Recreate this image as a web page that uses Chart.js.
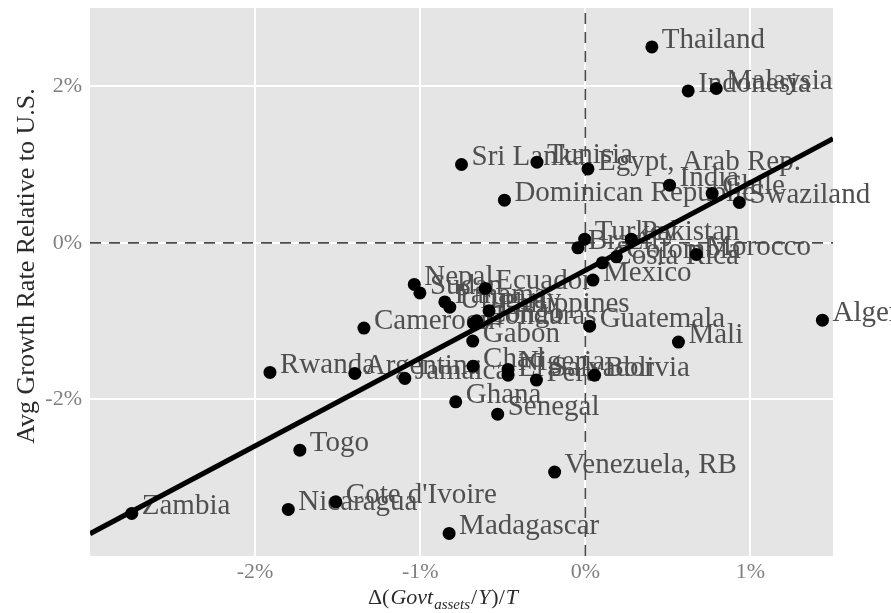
<!DOCTYPE html>
<html>
<head>
<meta charset="utf-8">
<script src="https://cdn.jsdelivr.net/npm/chart.js@4"></script>
<style>
  html, body { margin: 0; padding: 0; background: #fff; }
  #wrap { width: 891px; height: 613px; }
</style>
</head>
<body>
<div id="wrap"><canvas id="chart" width="891" height="613"></canvas></div>
<script>
// ─── Data ─────────────────────────────────────────────
const countries = [
  'Thailand', 'Indonesia', 'Malaysia', 'Sri Lanka', 'Tunisia', 'Egypt, Arab Rep.',
  'India', 'Chile', 'Swaziland', 'Dominican Republic', 'Turkey', 'Brazil',
  'Pakistan', 'Colombia', 'Costa Rica', 'Morocco', 'Mexico', 'Nepal',
  'Sudan', 'Ecuador', 'Panama', 'Uruguay', 'Philippines', 'Congo',
  'Honduras', 'Cameroon', 'Guatemala', 'Gabon', 'Algeria', 'Mali',
  'Rwanda', 'Argentina', 'Jamaica', 'Chad', 'Nigeria', 'El Salvador',
  'Peru', 'Bolivia', 'Ghana', 'Senegal', 'Togo', 'Venezuela, RB',
  "Cote d'Ivoire", 'Nicaragua', 'Zambia', 'Madagascar'
]
// Δ(Govt assets / Y) / T, in %
const govAssets = [
  0.403, 0.623, 0.793, -0.750, -0.293, 0.016,
  0.510, 0.768, 0.933, -0.490, -0.004, -0.045,
  0.278, 0.188, 0.103, 0.672, 0.046, -1.036,
  -1.002, -0.606, -0.851, -0.821, -0.583, -0.658,
  -0.676, -1.341, 0.026, -0.682, 1.436, 0.564,
  -1.910, -1.396, -1.093, -0.680, -0.468, -0.468,
  -0.296, 0.056, -0.785, -0.531, -1.729, -0.186,
  -1.511, -1.799, -2.747, -0.825
]
// average growth rate relative to U.S., in %
const growth = [
  2.503, 1.941, 1.972, 1.001, 1.031, 0.945,
  0.737, 0.631, 0.516, 0.545, 0.047, -0.064,
  0.047, -0.179, -0.255, -0.148, -0.476, -0.531,
  -0.639, -0.582, -0.754, -0.821, -0.868, -0.996,
  -1.026, -1.089, -1.064, -1.255, -0.987, -1.268,
  -1.655, -1.668, -1.732, -1.575, -1.617, -1.690,
  -1.753, -1.690, -2.031, -2.188, -2.648, -2.928,
  -3.308, -3.405, -3.456, -3.711
]
// fitted line end points
const fitX = [-3, 1.5]
const fitY = [-3.715, 1.33]

const xTicks = [-2, -1, 0, 1]
const yTicks = [-2, 0, 2]
const xRange = [-3, 1.5]
const yRange = [-4, 3]

// ─── Style ────────────────────────────────────────────
const SERIF      = '"Liberation Serif", "DejaVu Serif", serif'
const PANEL_BG   = '#e5e5e5'
const LABEL_CLR  = '#4f4f4f'
const TICK_CLR   = '#7f7f7f'
const TITLE_CLR  = '#2b2b2b'

const points = countries.map((c, i) => ({ x: govAssets[i], y: growth[i], label: c }))

// ─── Plugins ──────────────────────────────────────────
const panelBg = {
  id: 'panelBg',
  beforeDraw(chart) {
    const { ctx, chartArea: a } = chart
    ctx.save()
    ctx.fillStyle = PANEL_BG
    ctx.fillRect(a.left, a.top, a.right - a.left, a.bottom - a.top)
    ctx.restore()
  }
}

const pointLabels = {
  id: 'pointLabels',
  beforeDatasetsDraw(chart) {
    const { ctx, scales: { x, y } } = chart
    ctx.save()
    ctx.font = `29px ${SERIF}`
    ctx.fillStyle = LABEL_CLR
    ctx.textAlign = 'left'
    ctx.textBaseline = 'alphabetic'
    points.forEach(p => {
      ctx.fillText(p.label, x.getPixelForValue(p.x) + 10, y.getPixelForValue(p.y) + 1)
    })
    ctx.restore()
  }
}

const axisTitles = {
  id: 'axisTitles',
  afterDraw(chart) {
    const { ctx, chartArea: a } = chart
    ctx.save()
    ctx.fillStyle = TITLE_CLR
    // y title
    ctx.font = `26px ${SERIF}`
    ctx.textAlign = 'center'
    ctx.textBaseline = 'middle'
    ctx.translate(27, (a.top + a.bottom) / 2 - 16)
    ctx.rotate(-Math.PI / 2)
    ctx.fillText('Avg Growth Rate Relative to U.S.', 0, 0)
    ctx.restore()

    // x title: Δ(Govt_assets / Y) / T
    const parts = [
      { t: 'Δ(', f: `22px ${SERIF}`, dy: 0 },
      { t: 'Govt', f: `italic 22px ${SERIF}`, dy: 0 },
      { t: 'assets', f: `italic 15px ${SERIF}`, dy: 5 },
      { t: '/', f: `22px ${SERIF}`, dy: 0 },
      { t: 'Y', f: `italic 22px ${SERIF}`, dy: 0 },
      { t: ')/', f: `22px ${SERIF}`, dy: 0 },
      { t: 'T', f: `italic 22px ${SERIF}`, dy: 0 }
    ]
    ctx.save()
    ctx.fillStyle = TITLE_CLR
    ctx.textBaseline = 'alphabetic'
    ctx.textAlign = 'left'
    let total = 0
    parts.forEach(p => { ctx.font = p.f; p.w = ctx.measureText(p.t).width + 1; total += p.w })
    let cx = (a.left + a.right) / 2 - 18 - total / 2
    const base = 604
    parts.forEach(p => {
      ctx.font = p.f
      ctx.fillText(p.t, cx, base + p.dy)
      cx += p.w
    })
    ctx.restore()
  }
}

// ─── Chart ────────────────────────────────────────────
const ctx = document.getElementById('chart').getContext('2d')

new Chart(ctx, {
  type: 'scatter',
  data: {
    datasets: [
      {
        type: 'line',
        data: fitX.map((v, i) => ({ x: v, y: fitY[i] })),
        borderColor: '#000',
        borderWidth: 5,
        pointRadius: 0,
        order: 1
      },
      {
        data: points,
        backgroundColor: '#000',
        borderWidth: 0,
        pointRadius: 6.5,
        order: 2
      },
      {
        type: 'line',
        data: [{ x: 0, y: yRange[0] }, { x: 0, y: yRange[1] }],
        borderColor: '#4a4a4a',
        borderWidth: 1.6,
        borderDash: [11, 8],
        pointRadius: 0,
        order: 3
      },
      {
        type: 'line',
        data: [{ x: xRange[0], y: 0 }, { x: xRange[1], y: 0 }],
        borderColor: '#4a4a4a',
        borderWidth: 1.6,
        borderDash: [11, 8],
        pointRadius: 0,
        order: 3
      }
    ]
  },
  options: {
    responsive: false,
    devicePixelRatio: 1,
    animation: false,
    layout: { padding: { left: 0, right: 58, top: 8, bottom: 0 } },
    scales: {
      x: {
        type: 'linear',
        min: xRange[0],
        max: xRange[1],
        afterBuildTicks: s => { s.ticks = xTicks.map(v => ({ value: v })) },
        afterFit: s => { s.height = 57; s.paddingLeft = 0; s.paddingRight = 0 },
        ticks: {
          color: TICK_CLR,
          font: { family: SERIF, size: 22 },
          padding: 3,
          callback: v => `${v}%`
        },
        grid: { color: '#fff', lineWidth: 2, drawTicks: false },
        border: { display: false }
      },
      y: {
        type: 'linear',
        min: yRange[0],
        max: yRange[1],
        afterBuildTicks: s => { s.ticks = yTicks.map(v => ({ value: v })) },
        afterFit: s => { s.width = 90; s.paddingTop = 0; s.paddingBottom = 0 },
        ticks: {
          color: TICK_CLR,
          font: { family: SERIF, size: 22 },
          padding: 8,
          callback: v => `${v}%`
        },
        grid: { color: '#fff', lineWidth: 2, drawTicks: false },
        border: { display: false }
      }
    },
    plugins: {
      legend: { display: false },
      tooltip: { enabled: false }
    }
  },
  plugins: [panelBg, pointLabels, axisTitles]
})
</script>
</body>
</html>
